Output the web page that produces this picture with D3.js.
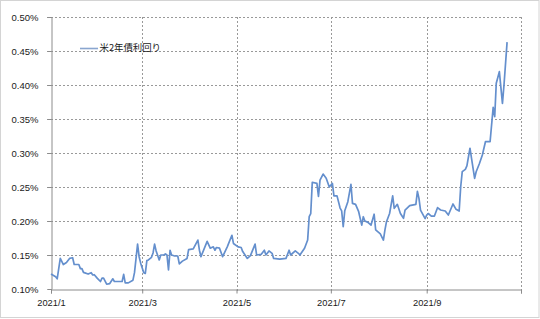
<!DOCTYPE html>
<html><head><meta charset="utf-8">
<script src="https://cdn.jsdelivr.net/npm/d3@7"></script>
<style>body{margin:0;background:#fff}svg{display:block}</style>
</head><body>
<svg id="c" width="540" height="319"></svg>
<script>
const seriesName = "米2年債利回り";
const dates = ["1/1","1/4","1/5","1/7","1/9","1/11","1/13","1/15","1/16","1/19","1/20","1/21","1/22","1/25","1/27","1/28","1/29","1/31",
"2/2","2/3","2/4","2/6","2/8","2/10","2/11","2/14","2/16","2/17","2/18","2/20","2/23","2/24","2/26","2/27","2/28",
"3/2","3/3","3/4","3/5","3/7","3/8","3/9","3/10","3/12","3/13","3/15","3/16","3/17","3/18","3/19","3/20","3/22","3/24","3/25","3/27","3/30","3/31",
"4/3","4/6","4/7","4/8","4/12","4/14","4/16","4/17","4/18","4/20","4/22","4/25","4/28","4/29",
"5/2","5/4","5/5","5/8","5/10","5/13","5/14","5/17","5/19","5/20","5/22","5/24","5/25","5/29",
"6/2","6/4","6/5","6/8","6/10","6/11","6/14","6/16","6/17","6/18","6/19","6/22","6/23","6/24","6/26","6/28","6/30",
"7/2","7/3","7/5","7/7","7/8","7/9","7/10","7/12","7/14","7/15","7/17","7/19","7/21","7/22","7/23","7/25","7/27","7/29","7/30",
"8/2","8/4","8/5","8/6","8/8","8/10","8/11","8/13","8/15","8/17","8/18","8/21","8/25","8/26","8/27","8/28","8/31",
"9/1","9/2","9/4","9/6","9/8","9/10","9/13","9/15","9/18","9/20","9/22","9/23","9/24","9/26","9/27","9/29","9/30",
"10/2","10/3","10/5","10/7","10/9","10/12","10/14","10/15","10/16","10/18","10/20","10/21","10/23"];
const values = [0.122,0.118,0.115,0.145,0.136,0.139,0.145,0.146,0.136,0.136,0.130,0.130,0.1245,0.122,0.124,0.1206,0.121,0.1157,
0.111,0.116,0.116,0.107,0.108,0.115,0.111,0.111,0.111,0.1216,0.109,0.109,0.113,0.124,0.166,0.1475,0.138,
0.124,0.123,0.1417,0.1427,0.1466,0.153,0.166,0.156,0.1427,0.150,0.150,0.1515,0.150,0.128,0.157,0.150,0.1485,0.1485,0.137,0.141,0.145,0.158,
0.159,0.172,0.157,0.1475,0.170,0.160,0.162,0.157,0.161,0.160,0.1475,0.162,0.179,0.167,
0.162,0.161,0.155,0.145,0.149,0.166,0.150,0.151,0.157,0.150,0.156,0.1525,0.145,0.144,
0.145,0.157,0.150,0.156,0.1525,0.150,0.160,0.172,0.2063,0.211,0.257,0.2554,0.236,0.260,0.269,0.263,0.250,
0.2554,0.237,0.237,0.219,0.215,0.1916,0.215,0.2284,0.254,0.226,0.2245,0.2137,0.194,0.2063,0.200,0.198,0.194,0.210,0.1868,
0.181,0.172,0.187,0.199,0.211,0.237,0.2187,0.2245,0.211,0.204,0.216,0.2225,0.2245,0.2435,0.2333,0.216,0.2035,
0.2088,0.211,0.2073,0.2073,0.2196,0.2162,0.2147,0.2088,0.225,0.2172,0.2147,0.2504,0.2725,0.276,0.281,0.307,0.292,
0.2628,0.2725,0.2838,0.297,0.3166,0.3166,0.367,0.3534,0.4025,0.4196,0.373,0.400,0.463];
const yTicks = [0.10,0.15,0.20,0.25,0.30,0.35,0.40,0.45,0.50];
const xTickMonths = ["2021/1/1","2021/3/1","2021/5/1","2021/7/1","2021/9/1","2021/11/1"];

const parse = d3.timeParse("%Y/%m/%d");
const data = dates.map((d,i)=>({date: parse("2021/"+d), v: values[i]}));
const xTicks = xTickMonths.map(parse);

const svg = d3.select("#c");
const L = 51, R = 521, T = 17, B = 289;
const x = d3.scaleTime().domain([parse("2021/1/1"), parse("2021/11/1")]).range([L, R]);
const y = d3.scaleLinear().domain([0.10, 0.50]).range([B, T]);

svg.append("rect").attr("x",0.5).attr("y",0.5).attr("width",538.5).attr("height",317)
  .attr("fill","#fff").attr("stroke","#d4d4d4");

const grid = svg.append("g");
grid.selectAll("line.h").data(yTicks.filter(t=>t>0.10)).join("line")
  .attr("x1",L-4).attr("x2",R).attr("y1",d=>Math.round(y(d))+0.5).attr("y2",d=>Math.round(y(d))+0.5)
  .attr("stroke","#999").attr("stroke-dasharray","2,2").attr("stroke-width",1);
grid.selectAll("line.v").data(xTicks.slice(1)).join("line")
  .attr("x1",d=>Math.round(x(d))+0.5).attr("x2",d=>Math.round(x(d))+0.5).attr("y1",T).attr("y2",B+4)
  .attr("stroke","#999").attr("stroke-dasharray","2,2").attr("stroke-width",1);

const yAxis = d3.axisLeft(y).tickValues(yTicks).tickSize(4).tickFormat(d=>d.toFixed(2)+"%");
const gy = svg.append("g").attr("transform",`translate(${L+0.5},0)`).call(yAxis);
gy.select(".domain").attr("stroke","#8c8c8c");
gy.selectAll(".tick line").attr("stroke","#8c8c8c");
gy.selectAll(".tick text").attr("x",-13).attr("font-family","Liberation Sans, Arial, sans-serif").attr("font-size","9.5px").attr("fill","#1a1a1a");

const xAxis = d3.axisBottom(x).tickValues(xTicks).tickSize(4).tickFormat(d3.timeFormat("%Y/%-m"));
const gx = svg.append("g").attr("transform",`translate(0,${B+0.5})`).call(xAxis);
gx.select(".domain").attr("stroke","#8c8c8c");
gx.selectAll(".tick line").attr("stroke","#8c8c8c");
gx.selectAll(".tick text").attr("y",10).attr("font-family","Liberation Sans, Arial, sans-serif").attr("font-size","9.3px").attr("fill","#1a1a1a");
gx.selectAll(".tick").filter((d,i)=>i===xTicks.length-1).select("text").remove();

const line = d3.line().x(d=>x(d.date)).y(d=>y(d.v));
svg.append("path").datum(data).attr("d",line).attr("fill","none")
  .attr("stroke","#648fcd").attr("stroke-width",1.7).attr("stroke-linejoin","round");

const lg = svg.append("g");
lg.append("line").attr("x1",80).attr("x2",98).attr("y1",48.5).attr("y2",48.5)
  .attr("stroke","#8aa6cf").attr("stroke-width",1.6);
lg.append("text").attr("x",99.5).attr("y",48).attr("dy","0.35em")
  .attr("font-family","Noto Sans CJK JP, sans-serif").attr("font-size","9.4px").attr("fill","#1a1a1a").text(seriesName);
</script>
</body></html>
